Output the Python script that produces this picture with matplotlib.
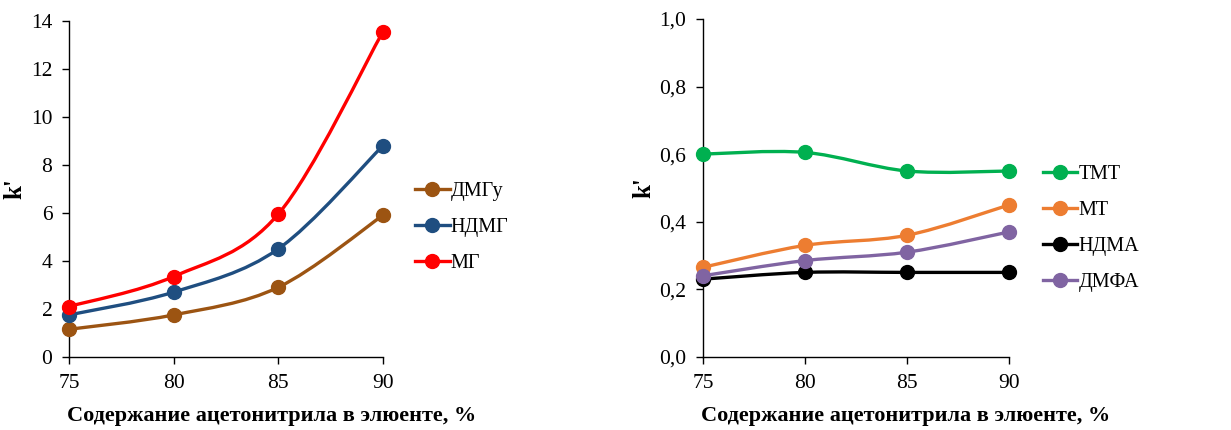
import numpy as np
import matplotlib
matplotlib.use("Agg")
import matplotlib.pyplot as plt
from matplotlib.path import Path
from matplotlib.patches import PathPatch
from matplotlib.lines import Line2D

plt.rcParams['font.family'] = ['Liberation Serif', 'DejaVu Serif']

#### data
x = [75, 80, 85, 90]

# left chart
dmgu = [1.15, 1.75, 2.9, 5.9]
ndmg = [1.75, 2.7, 4.5, 8.8]
mg = [2.1, 3.35, 5.95, 13.55]
left_names = ['ДМГу', 'НДМГ', 'МГ']

# right chart
tmt = [0.60, 0.605, 0.55, 0.55]
mt = [0.265, 0.33, 0.36, 0.45]
ndma = [0.23, 0.25, 0.25, 0.25]
dmfa = [0.24, 0.285, 0.31, 0.37]
right_names = ['ТМТ', 'МТ', 'НДМА', 'ДМФА']

xlabel = 'Содержание ацетонитрила в элюенте, %'


def smooth_line(ax, xs, ys, color):
    # excel-like smoothed line, bezier through the points
    pts = np.column_stack([xs, ys]).astype(float)
    n = len(pts)
    verts = [pts[0]]
    codes = [Path.MOVETO]
    for i in range(n - 1):
        p0 = pts[i - 1] if i > 0 else pts[i]
        p1 = pts[i]
        p2 = pts[i + 1]
        p3 = pts[i + 2] if i + 2 < n else pts[i + 1]
        c1 = p1 + (p2 - p0) / 6
        c2 = p2 - (p3 - p1) / 6
        verts += [c1, c2, p2]
        codes += [Path.CURVE4] * 3
    ax.add_patch(PathPatch(Path(verts, codes), fill=False, edgecolor=color, lw=2.4))
    ax.plot(xs, ys, 'o', color=color, ms=10, zorder=3, clip_on=False)


def style_axes(ax, ylab_x, xlab_x):
    ax.spines['top'].set_visible(False)
    ax.spines['right'].set_visible(False)
    ax.spines['left'].set_linewidth(1.0)
    ax.spines['bottom'].set_linewidth(1.0)
    ax.tick_params(direction='out', length=5, width=1, labelsize=15.5, pad=7)
    ax.set_xlim(75, 90)
    ax.set_xticks(x)
    ax.set_xlabel(xlabel, fontsize=16, fontweight='bold')
    ax.xaxis.set_label_coords(xlab_x, -0.146)
    ax.set_ylabel("k'", fontsize=18, fontweight='bold')
    ax.yaxis.set_label_coords(ylab_x, 0.5)


fig = plt.figure(figsize=(12.31, 4.30), dpi=100)

ax1 = fig.add_axes([0.056, 0.170, 0.255, 0.781])
left_colors = ['#9C5412', '#1F4E80', '#FF0000']
for ys, c in zip([dmgu, ndmg, mg], left_colors):
    smooth_line(ax1, x, ys, c)
style_axes(ax1, -0.134, 0.646)
ax1.set_ylim(0, 14)
ax1.set_yticks(range(0, 15, 2))
h1 = [Line2D([], [], color=c, lw=2.4, marker='o', ms=10) for c in left_colors]
ax1.legend(h1, left_names, loc='center left', bbox_to_anchor=(1.078, 0.385), frameon=False,
           fontsize=14.5, handlelength=1.7, handletextpad=0.05, labelspacing=0.85,
           borderaxespad=0)

ax2 = fig.add_axes([0.571, 0.170, 0.249, 0.786])
right_colors = ['#00B050', '#ED7D31', '#000000', '#8064A2']
for ys, c in zip([tmt, mt, ndma, dmfa], right_colors):
    smooth_line(ax2, x, ys, c)
style_axes(ax2, -0.156, 0.661)
ax2.set_ylim(0, 1.0)
ax2.set_yticks(np.arange(0, 1.01, 0.2))
ax2.set_yticklabels([f'{v:.1f}'.replace('.', ',') for v in np.arange(0, 1.01, 0.2)])
h2 = [Line2D([], [], color=c, lw=2.4, marker='o', ms=10) for c in right_colors]
ax2.legend(h2, right_names, loc='center left', bbox_to_anchor=(1.084, 0.38), frameon=False,
           fontsize=14.5, handlelength=1.7, handletextpad=0.05, labelspacing=0.85,
           borderaxespad=0)

fig.savefig('out.png', dpi=100)
